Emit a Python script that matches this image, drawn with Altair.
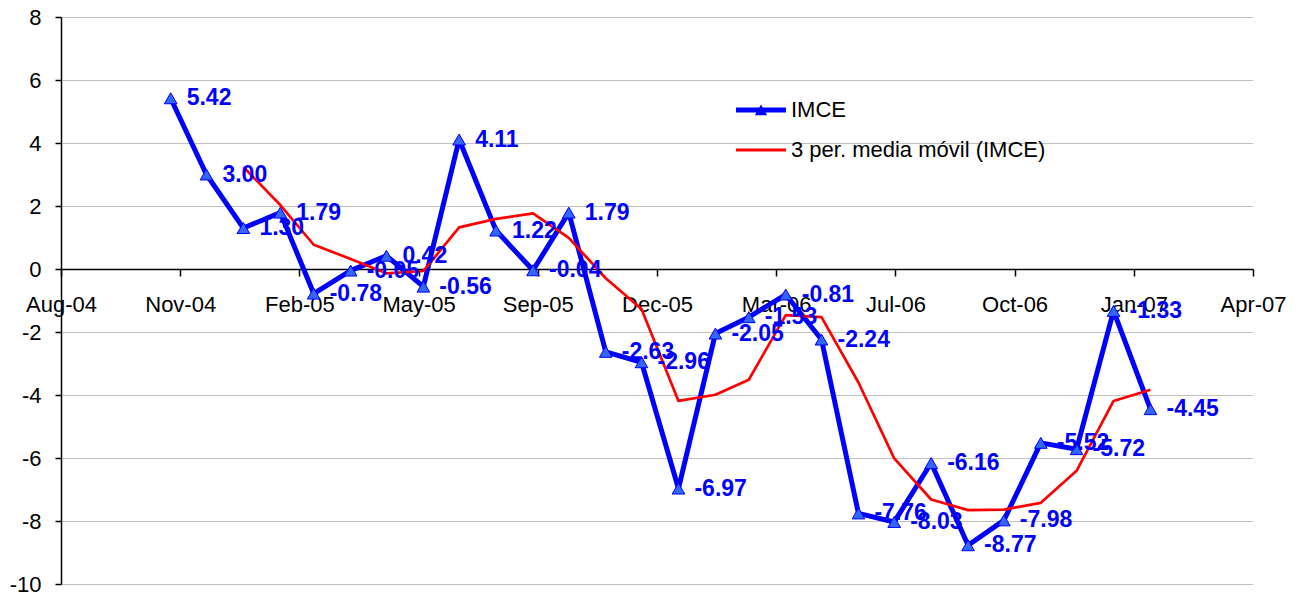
import altair as alt
import pandas as pd

# ---- data ----
fechas = [
    "2004-11-01", "2004-12-01",
    "2005-01-01", "2005-02-01", "2005-03-01", "2005-04-01", "2005-05-01", "2005-06-01",
    "2005-07-01", "2005-08-01", "2005-09-01", "2005-10-01", "2005-11-01", "2005-12-01",
    "2006-01-01", "2006-02-01", "2006-03-01", "2006-04-01", "2006-05-01", "2006-06-01",
    "2006-07-01", "2006-08-01", "2006-09-01", "2006-10-01", "2006-11-01", "2006-12-01",
    "2007-01-01", "2007-02-01",
]
imce = [5.42, 3.00, 1.30, 1.79, -0.78, -0.05, 0.42, -0.56, 4.11, 1.22, -0.04, 1.79,
        -2.63, -2.96, -6.97, -2.05, -1.53, -0.81, -2.24, -7.76, -8.03, -6.16, -8.77,
        -7.98, -5.52, -5.72, -1.33, -4.45]
series_names = ["IMCE", "3 per. media móvil (IMCE)"]
series_colors = ["#0000ff", "#ff0000"]
x_tick_dates = [(2004, 8, 1), (2004, 11, 9), (2005, 2, 17), (2005, 5, 28), (2005, 9, 5),
                (2005, 12, 14), (2006, 3, 24), (2006, 7, 2), (2006, 10, 10),
                (2007, 1, 18), (2007, 4, 28)]
y_ticks = [-10, -8, -6, -4, -2, 0, 2, 4, 6, 8]

df = pd.DataFrame({"fecha": pd.to_datetime(fechas), "imce": imce, "serie": series_names[0]})

FONT = "Liberation Sans"
W, H = 1192, 567
Y_MIN, Y_MAX = -10, 8
MINUS = "\u2212"

def dt(t):
    return alt.DateTime(year=t[0], month=t[1], date=t[2])

x_scale = alt.Scale(domain=[dt(x_tick_dates[0]), dt(x_tick_dates[-1])])
y_scale = alt.Scale(domain=[Y_MIN, Y_MAX], nice=False, zero=False)

x_axis = alt.Axis(
    values=[dt(t) for t in x_tick_dates], format="%b-%y", title=None,
    offset=-(0 - Y_MIN) / (Y_MAX - Y_MIN) * H,
    labelFont=FONT, labelFontSize=22, labelColor="black", labelPadding=18,
    labelFlush=False, labelOverlap=False,
    domainColor="black", domainWidth=1.5, tickColor="black", tickWidth=1.5, tickSize=7,
    grid=False,
)
y_axis = alt.Axis(
    values=y_ticks, title=None,
    labelExpr="replace(datum.label, '" + MINUS + "', '-')",
    labelFont=FONT, labelFontSize=22, labelColor="black", labelPadding=14,
    labelFlush=False, labelOverlap=False,
    domainColor="black", domainWidth=1.5, tickColor="black", tickWidth=1.5, tickSize=6,
    grid=True, gridColor="#808080", gridDash=[1, 1], gridWidth=1,
)

# legend symbols: a thick line with a triangle for IMCE, a thinner line for the moving average
P_IMCE = "M-2.5,-0.25H2.5V0.25H-2.5Z M0,-0.56L0.62,0.52H-0.62Z"
P_MA = "M-2.5,-0.14H2.5V0.14H-2.5Z"
legend = alt.Legend(
    title=None, orient="none", legendX=689, legendY=82, padding=0,
    symbolSize=400, symbolStrokeWidth=0, symbolOpacity=1,
    labelFont=FONT, labelFontSize=22, labelColor="black",
    labelOffset=19, labelLimit=600, rowPadding=18,
)

base = alt.Chart(df)

blue_line = base.mark_line(strokeWidth=5, strokeJoin="round", color=series_colors[0]).encode(
    x=alt.X("fecha:T", scale=x_scale, axis=x_axis),
    y=alt.Y("imce:Q", scale=y_scale, axis=y_axis),
)
markers = base.mark_point(shape="triangle-up", size=160, filled=True, fill="#3366ff",
                          stroke="#0000ff", strokeWidth=1, opacity=1).encode(
    x="fecha:T", y="imce:Q"
)
ma_line = base.transform_window(
    ma="mean(imce)", n="row_number()", frame=[-2, 0], sort=[alt.SortField("fecha")]
).transform_filter("datum.n >= 3").mark_line(
    strokeWidth=2.7, strokeJoin="round", color=series_colors[1]
).encode(x="fecha:T", y="ma:Q")
labels = base.transform_calculate(
    lab="replace(format(datum.imce, '.2f'), '" + MINUS + "', '-')"
).mark_text(align="left", baseline="middle", dx=16, font=FONT, fontSize=23,
            fontWeight="bold", color="#0000ff").encode(
    x="fecha:T", y="imce:Q", text="lab:N"
)
legend_layer = base.transform_filter("false").mark_point(filled=True, opacity=1).encode(
    x="fecha:T", y="imce:Q",
    shape=alt.Shape("serie:N", scale=alt.Scale(domain=series_names, range=[P_IMCE, P_MA]),
                    legend=legend),
    fill=alt.Fill("serie:N", scale=alt.Scale(domain=series_names, range=series_colors),
                  legend=legend),
)

chart = alt.layer(blue_line, markers, ma_line, labels, legend_layer).properties(
    width=W, height=H,
    autosize=alt.AutoSizeParams(type="none"),
    padding={"left": 53, "top": 9, "right": 37, "bottom": 8},
    background="white",
).configure_view(stroke=None)

chart.save("out.html", embed_options={"renderer": "svg", "actions": False})
